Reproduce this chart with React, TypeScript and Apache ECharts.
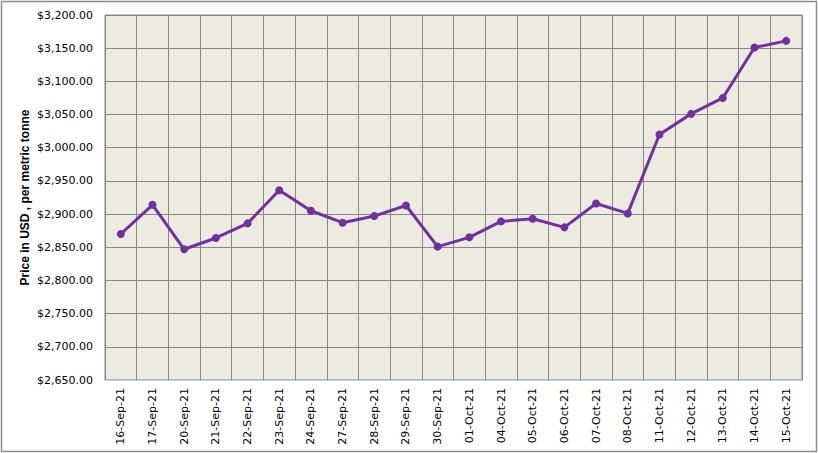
import React, { useEffect, useRef } from "react";
import * as echarts from "echarts";

const categories = [
  "16-Sep-21", "17-Sep-21", "20-Sep-21", "21-Sep-21", "22-Sep-21", "23-Sep-21",
  "24-Sep-21", "27-Sep-21", "28-Sep-21", "29-Sep-21", "30-Sep-21", "01-Oct-21",
  "04-Oct-21", "05-Oct-21", "06-Oct-21", "07-Oct-21", "08-Oct-21", "11-Oct-21",
  "12-Oct-21", "13-Oct-21", "14-Oct-21", "15-Oct-21",
];
const prices = [
  2870, 2914, 2847, 2864, 2886, 2936, 2905, 2887, 2897, 2913, 2851, 2865,
  2889, 2893, 2880, 2916, 2901, 3020, 3051, 3075, 3151, 3161,
];
const yMin = 2650;
const yMax = 3200;
const yStep = 50;
const yName = "Price in USD , per metric tonne";

export default function App() {
  const ref = useRef<HTMLDivElement>(null);
  useEffect(() => {
    if (!ref.current) return;
    const chart = echarts.init(ref.current, null, { renderer: "svg" });
    const font = "DejaVu Sans";
    chart.setOption({
      animation: false,
      backgroundColor: "#ffffff",
      graphic: [
        {
          type: "rect",
          shape: { x: 1.5, y: 1.5, width: 815, height: 450 },
          style: { fill: "none", stroke: "#8a8a8a", lineWidth: 1.5 },
          silent: true,
        },
      ],
      grid: {
        left: 105,
        top: 15,
        right: 16,
        bottom: 73,
        containLabel: false,
        show: true,
        backgroundColor: "#EDEAE0",
        borderColor: "#878787",
        borderWidth: 1,
      },
      xAxis: {
        type: "category",
        data: categories,
        boundaryGap: true,
        axisLine: { show: true, lineStyle: { color: "#B9CDE5", width: 1 } },
        axisTick: { show: false },
        splitLine: { show: true, lineStyle: { color: "#878787", width: 1 } },
        axisLabel: {
          rotate: 90,
          interval: 0,
          margin: 8,
          color: "#000000",
          fontFamily: font,
          fontSize: 11,
        },
      },
      yAxis: {
        type: "value",
        min: yMin,
        max: yMax,
        interval: yStep,
        name: yName,
        nameLocation: "middle",
        nameRotate: 90,
        nameGap: 74,
        nameMoveOverlap: false,
        nameTextStyle: {
          color: "#000000",
          fontFamily: "Liberation Sans",
          fontWeight: "bold",
          fontSize: 12,
        },
        axisLine: { show: false },
        axisTick: { show: false },
        splitLine: { show: true, lineStyle: { color: "#878787", width: 1 } },
        axisLabel: {
          margin: 12,
          color: "#000000",
          fontFamily: font,
          fontSize: 11,
          formatter: (v: number) =>
            "$" + v.toLocaleString("en-US", { minimumFractionDigits: 2, maximumFractionDigits: 2 }),
        },
      },
      series: [
        {
          type: "line",
          data: prices,
          symbol: "circle",
          symbolSize: 8,
          lineStyle: { color: "#7030A0", width: 3 },
          itemStyle: { color: "#7030A0" },
        },
      ],
    });
    return () => chart.dispose();
  }, []);
  return (
    <div
      ref={ref}
      style={{ position: "fixed", left: 0, top: 0, width: 818, height: 453 }}
    />
  );
}
